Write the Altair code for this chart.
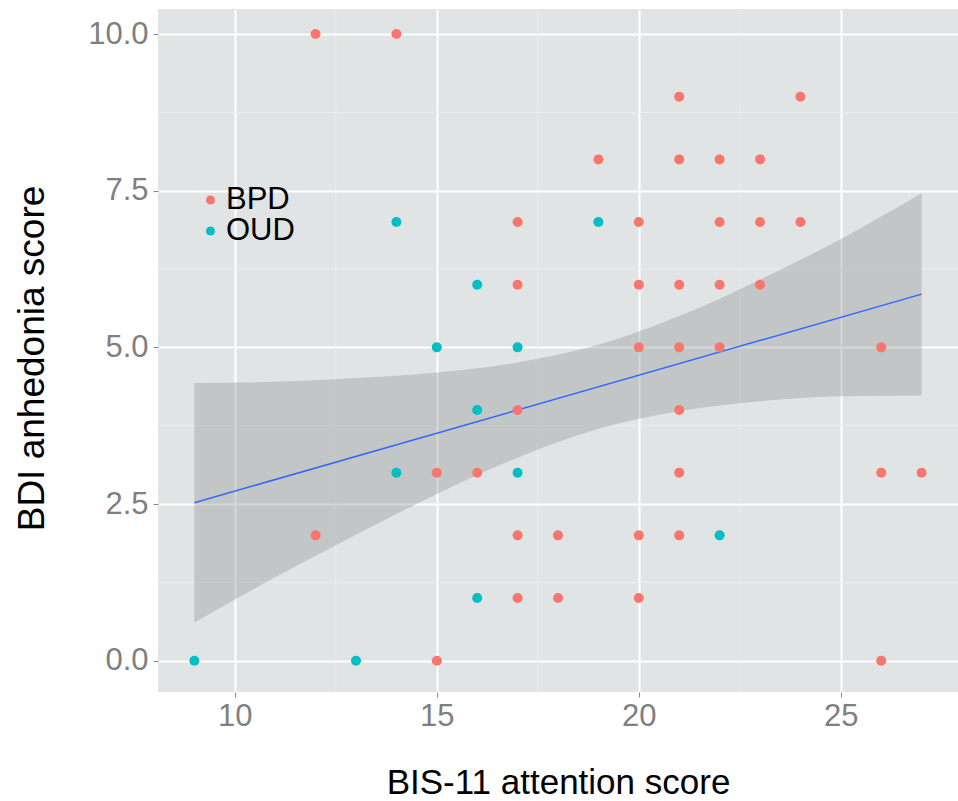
import altair as alt
import pandas as pd

# ---- data ----
bpd_x = [12, 14, 21, 24, 19, 21, 22, 23, 17, 20, 22, 23, 24, 17, 20, 21, 22, 23, 20, 21,
         22, 26, 17, 21, 15, 16, 21, 26, 27, 12, 17, 18, 20, 21, 17, 18, 20, 15, 26]
bpd_y = [10, 10, 9, 9, 8, 8, 8, 8, 7, 7, 7, 7, 7, 6, 6, 6, 6, 6, 5, 5,
         5, 5, 4, 4, 3, 3, 3, 3, 3, 2, 2, 2, 2, 2, 1, 1, 1, 0, 0]
oud_x = [14, 19, 16, 15, 17, 16, 14, 17, 22, 16, 9, 13]
oud_y = [7, 7, 6, 5, 5, 4, 3, 3, 2, 1, 0, 0]

# fitted line and its 95% band
fit_x = [9, 27]
fit_y = [2.52, 5.85]
band_x = [9, 11, 13, 15, 17, 19, 21, 23, 25, 27]
band_lo = [0.61, 1.33, 2.01, 2.66, 3.24, 3.70, 3.98, 4.14, 4.22, 4.23]
band_hi = [4.43, 4.45, 4.51, 4.60, 4.76, 5.04, 5.50, 6.08, 6.73, 7.46]

groups = ["BPD", "OUD"]
colors = ["#F8766D", "#00BFC4"]
x_ticks = [10, 15, 20, 25]
y_ticks = [0.0, 2.5, 5.0, 7.5, 10.0]
x_minor = [12.5, 17.5, 22.5]
y_minor = [1.25, 3.75, 6.25, 8.75]

pts = pd.DataFrame({
    "x": bpd_x + oud_x,
    "y": bpd_y + oud_y,
    "group": ["BPD"] * len(bpd_x) + ["OUD"] * len(oud_x),
})
band = pd.DataFrame({"x": band_x, "lo": band_lo, "hi": band_hi})
fitdf = pd.DataFrame({"x": fit_x, "fit": fit_y})

XD = [8.1, 27.9]
YD = [-0.5, 10.4]
xs = alt.Scale(domain=XD, nice=False, zero=False)
ys = alt.Scale(domain=YD, nice=False, zero=False)

x_axis = alt.Axis(values=x_ticks, format="d", title="BIS-11 attention score",
                  grid=True, gridColor="white", gridWidth=2,
                  domain=False, tickColor="#8a8a8a", tickSize=5, tickWidth=1,
                  labelFont="Liberation Sans", labelFontSize=31, labelColor="#7F7F7F",
                  labelPadding=4,
                  titleFont="Liberation Sans", titleFontSize=35, titleFontWeight="normal",
                  titleColor="black", titleY=101, titleBaseline="alphabetic")
y_axis = alt.Axis(values=y_ticks, format=".1f", title="BDI anhedonia score",
                  grid=True, gridColor="white", gridWidth=2,
                  domain=False, tickColor="#8a8a8a", tickSize=5, tickWidth=1,
                  labelFont="Liberation Sans", labelFontSize=31, labelColor="#7F7F7F",
                  labelPadding=5,
                  titleFont="Liberation Sans", titleFontSize=37, titleFontWeight="normal",
                  titleColor="black", titleX=-115, titleY=349, titleBaseline="alphabetic")

minor_v = alt.Chart(pd.DataFrame({"x": x_minor})).mark_rule(
    color="#EBEDED", strokeWidth=1).encode(x=alt.X("x:Q", scale=xs))
minor_h = alt.Chart(pd.DataFrame({"y": y_minor})).mark_rule(
    color="#EBEDED", strokeWidth=1).encode(y=alt.Y("y:Q", scale=ys))

ribbon = alt.Chart(band).mark_area(color="#999999", opacity=0.4, interpolate="monotone").encode(
    x=alt.X("x:Q", scale=xs, axis=x_axis),
    y=alt.Y("lo:Q", scale=ys, axis=y_axis),
    y2="hi:Q",
)
line = alt.Chart(fitdf).mark_line(color="#3366FF", strokeWidth=1.5).encode(
    x=alt.X("x:Q", scale=xs),
    y=alt.Y("fit:Q", scale=ys),
)
points = alt.Chart(pts).mark_circle(size=100, opacity=1).encode(
    x=alt.X("x:Q", scale=xs),
    y=alt.Y("y:Q", scale=ys),
    color=alt.Color("group:N",
                    scale=alt.Scale(domain=groups, range=colors),
                    legend=alt.Legend(title=None, orient="none", legendX=37, legendY=182,
                                      labelFont="Liberation Sans", labelFontSize=31,
                                      labelColor="black", labelOffset=0,
                                      symbolSize=80, symbolType="circle",
                                      clipHeight=18, rowPadding=0, padding=0)),
)

chart = alt.layer(minor_v, minor_h, ribbon, line, points).properties(
    width=800, height=683,
    padding={"left": 158, "top": 9, "right": 0, "bottom": 109},
    autosize=alt.AutoSizeParams(type="none"),
    background="white",
).configure_view(fill="#E0E4E4", stroke=None)

chart.save("out.html", embed_options={"renderer": "svg", "actions": False})
